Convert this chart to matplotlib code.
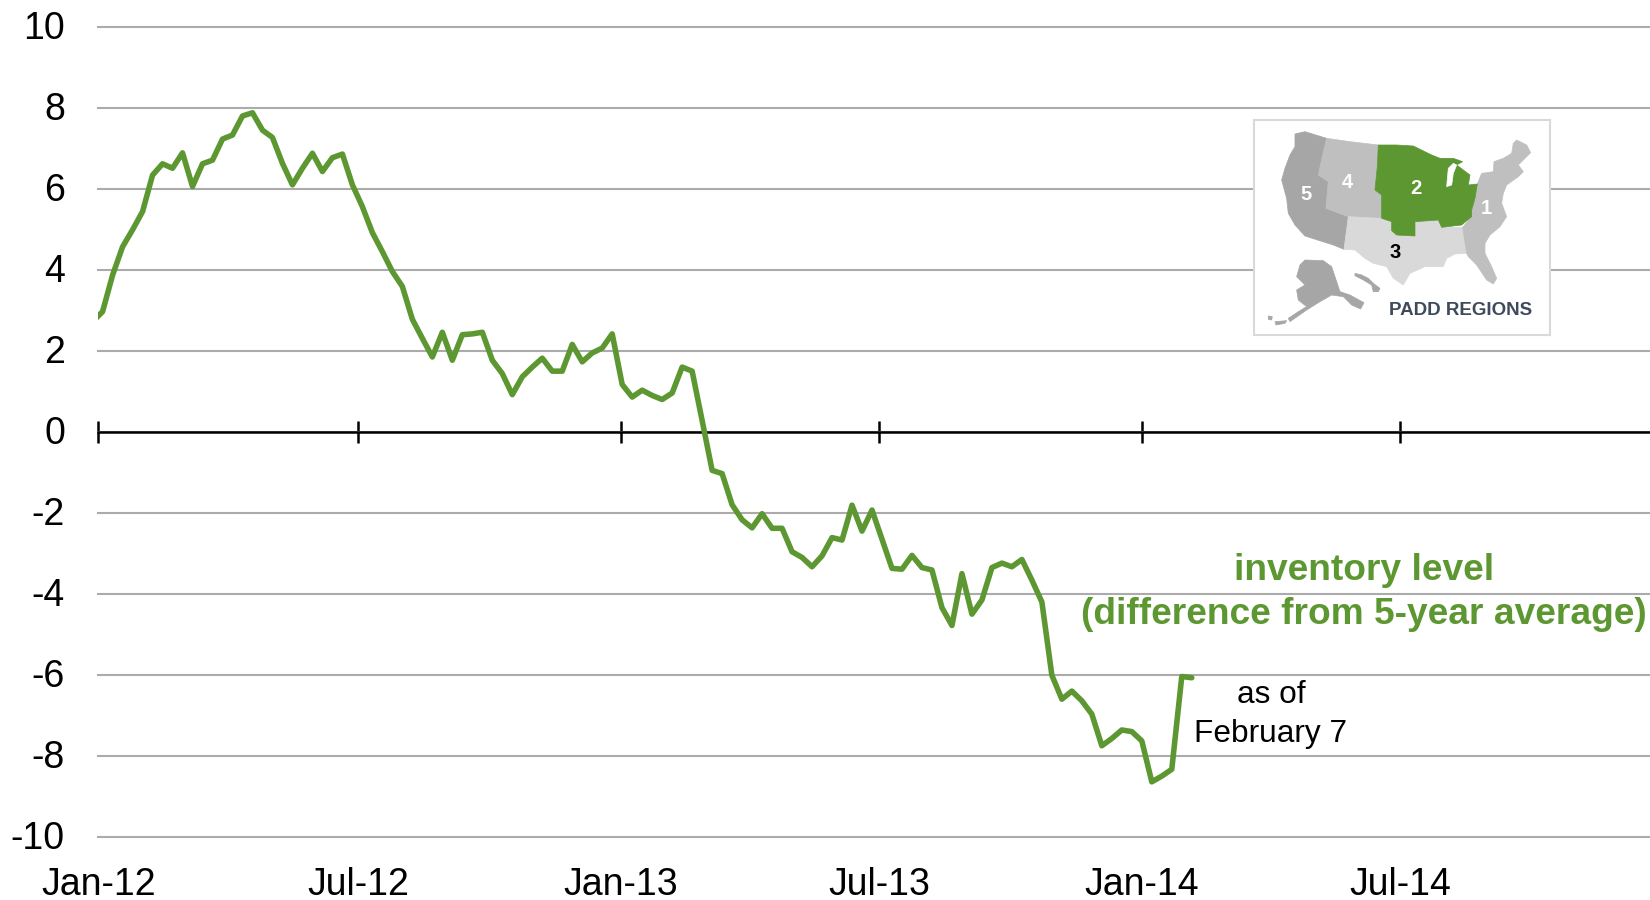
import pandas as pd
import matplotlib
matplotlib.use('Agg')
import matplotlib.pyplot as plt
from matplotlib.patches import Polygon
from matplotlib.transforms import ScaledTranslation

# weekly inventory, difference from 5-year average
inventario = [
    2.73, 2.98, 3.88, 4.58, 5.00, 5.45, 6.35, 6.63, 6.52, 6.90, 6.07, 6.63, 6.72, 7.24, 7.34, 7.81, 7.89, 7.46,
    7.28, 6.64, 6.11, 6.52, 6.89, 6.44, 6.78, 6.87, 6.11, 5.57, 4.93, 4.46, 3.97, 3.60, 2.79, 2.32, 1.86, 2.47,
    1.78, 2.41, 2.43, 2.47, 1.78, 1.45, 0.93, 1.37, 1.61, 1.83, 1.51, 1.51, 2.17, 1.74, 1.96, 2.08, 2.43, 1.18,
    0.87, 1.04, 0.91, 0.81, 0.97, 1.61, 1.51, 0.29, -0.94, -1.02, -1.79, -2.16, -2.36, -2.01, -2.37, -2.37, -2.95,
    -3.09, -3.32, -3.05, -2.60, -2.66, -1.80, -2.44, -1.92, -2.64, -3.36, -3.38, -3.04, -3.34, -3.40, -4.33, -4.77,
    -3.49, -4.49, -4.14, -3.34, -3.23, -3.32, -3.14, -3.65, -4.19, -6.00, -6.59, -6.39, -6.63, -6.96, -7.74, -7.56,
    -7.35, -7.39, -7.62, -8.63, -8.49, -8.32, -6.03, -6.06,
]
fechas = pd.date_range('2011-12-28', periods=len(inventario), freq='7D')

fechas_ticks = pd.to_datetime(['2012-01-01', '2012-07-01', '2013-01-01', '2013-07-01', '2014-01-01', '2014-07-01'])
etiquetas_x = ['Jan-12', 'Jul-12', 'Jan-13', 'Jul-13', 'Jan-14', 'Jul-14']
valores_y = [-10, -8, -6, -4, -2, 0, 2, 4, 6, 8, 10]
etiquetas_y = ['-10', '-8', '-6', '-4', '-2', '0', '2', '4', '6', '8', '10']

# inset map outlines, in pixels of the small map picture
padd5 = [(165, 72), (195, 65), (260, 85), (248, 135), (235, 195), (265, 215), (258, 295), (325, 320), (312, 418),
         (280, 405), (195, 378), (165, 345), (145, 310), (140, 265), (125, 210), (135, 175), (150, 135), (165, 110)]
padd4 = [(260, 85), (330, 95), (415, 105), (412, 170), (405, 240), (425, 255), (425, 325), (325, 320), (258, 295),
         (265, 215), (235, 195), (248, 135)]
padd2 = [(415, 105), (470, 105), (520, 108), (575, 135), (600, 145), (640, 145), (668, 155), (650, 165), (690, 195),
         (685, 225), (712, 222), (705, 265), (695, 300), (695, 320), (665, 345), (605, 352), (595, 330), (525, 335),
         (525, 378), (470, 375), (455, 362), (455, 335), (425, 325), (425, 255), (405, 240), (412, 170)]
lago = [(640, 160), (625, 175), (620, 230), (635, 225), (640, 190), (650, 165)]
padd3 = [(325, 320), (425, 325), (455, 335), (455, 362), (470, 375), (525, 378), (525, 335), (595, 330), (605, 352),
         (668, 352), (680, 430), (645, 432), (620, 445), (610, 470), (555, 470), (510, 490), (490, 525), (460, 505),
         (440, 470), (400, 460), (375, 445), (345, 420), (312, 418)]
padd1 = [(712, 222), (725, 190), (760, 185), (762, 155), (790, 145), (815, 130), (820, 100), (830, 90), (860, 105),
         (872, 128), (850, 150), (835, 165), (850, 185), (835, 200), (800, 225), (790, 250), (785, 280), (800, 320),
         (780, 350), (750, 375), (735, 400), (735, 430), (755, 470), (770, 505), (760, 522), (740, 510), (710, 465),
         (685, 440), (680, 430), (668, 352), (695, 320), (695, 300), (705, 265)]
alaska = [(195, 450), (250, 452), (275, 470), (300, 545), (330, 555), (372, 578), (362, 597), (335, 585), (310, 560),
          (275, 555), (240, 575), (200, 600), (150, 635), (145, 625), (175, 605), (200, 590), (175, 570), (170, 540),
          (195, 525), (170, 500), (180, 465)]
aleutianas = [(85, 618), (97, 620), (95, 630), (85, 628)]
aleutianas2 = [(105, 635), (140, 632), (135, 640), (108, 645)]
hawaii = [(345, 490), (365, 495), (385, 505), (400, 520), (420, 535), (415, 545), (400, 545), (395, 525), (370, 510),
          (345, 497)]

VERDE = '#5D9732'
plt.rcParams['font.family'] = ['Liberation Sans', 'DejaVu Sans']

fig = plt.figure(figsize=(16.5, 9), dpi=100)
ax = fig.add_axes([98.3 / 1650, 1 - 837.3 / 900, 1 - 98.3 / 1650, 810 / 900])

ax.plot(fechas, inventario, color=VERDE, linewidth=4, solid_joinstyle='round', solid_capstyle='round', zorder=4)

ax.set_ylim(-10, 10)
ax.set_xlim(pd.Timestamp('2012-01-01'), pd.Timestamp('2012-01-01') + pd.Timedelta(days=1087))
ax.set_yticks(valores_y)
ax.set_yticklabels(etiquetas_y)
ax.set_xticks(fechas_ticks)
ax.set_xticklabels(etiquetas_x)
ax.grid(axis='y', color='#ABABAB', linewidth=1.5, zorder=1, clip_on=False)
ax.set_axisbelow(True)

for lado in ['top', 'right', 'left']:
    ax.spines[lado].set_visible(False)
ax.spines['bottom'].set_position(('data', 0))
ax.spines['bottom'].set_linewidth(1.8)
ax.spines['bottom'].set_zorder(3)
ax.tick_params(axis='x', direction='inout', length=16, width=1.8, pad=305, labelsize=27)
ax.tick_params(axis='y', length=0, pad=24, labelsize=27)

# y labels sit a little above their gridlines
subir = ScaledTranslation(0, 1.5 / 72, fig.dpi_scale_trans)
for etiqueta in ax.get_yticklabels():
    etiqueta.set_transform(etiqueta.get_transform() + subir)


def px(x, y):
    # figure pixels (origin at the top left) to figure fraction
    return x / 1650, 1 - y / 900


fig.text(*px(1364, 570), 'inventory level', color=VERDE, fontsize=26.7, fontweight='bold', ha='center', va='center')
fig.text(*px(1364, 615), '(difference from 5-year average)', color=VERDE, fontsize=26.7, fontweight='bold',
         ha='center', va='center')
fig.text(*px(1271, 695), 'as of', color='black', fontsize=22.8, ha='center', va='center')
fig.text(*px(1271, 734), 'February 7', color='black', fontsize=22.8, ha='center', va='center')

# PADD map
mapa = fig.add_axes([1254.3 / 1650, 1 - 335 / 900, (1550 - 1254.3) / 1650, 215 / 900], zorder=5)
mapa.set_xlim(43, 930)
mapa.set_ylim(675, 30)
mapa.set_xticks([])
mapa.set_yticks([])
for lado in mapa.spines.values():
    lado.set_color('#D9D9D9')
    lado.set_linewidth(1.5)

for contorno, tono in [(padd5, '#A6A6A6'), (padd4, '#BFBFBF'), (padd3, '#D9D9D9'), (padd1, '#BFBFBF'),
                       (padd2, VERDE), (lago, 'white'), (alaska, '#A6A6A6'), (aleutianas, '#A6A6A6'),
                       (aleutianas2, '#A6A6A6'), (hawaii, '#A6A6A6')]:
    mapa.add_patch(Polygon(contorno, closed=True, facecolor=tono, edgecolor=tono, linewidth=0.5))

for x, y, num, tono in [(197, 252, '5', 'white'), (322, 218, '4', 'white'), (527, 235, '2', 'white'),
                        (738, 295, '1', 'white'), (465, 428, '3', 'black')]:
    mapa.text(x, y, num, color=tono, fontsize=14.5, fontweight='bold', ha='center', va='center')
mapa.text(662, 602, 'PADD REGIONS', color='#3F4A5A', fontsize=13.5, fontweight='bold', ha='center', va='center')

fig.savefig('out.png', dpi=100)
